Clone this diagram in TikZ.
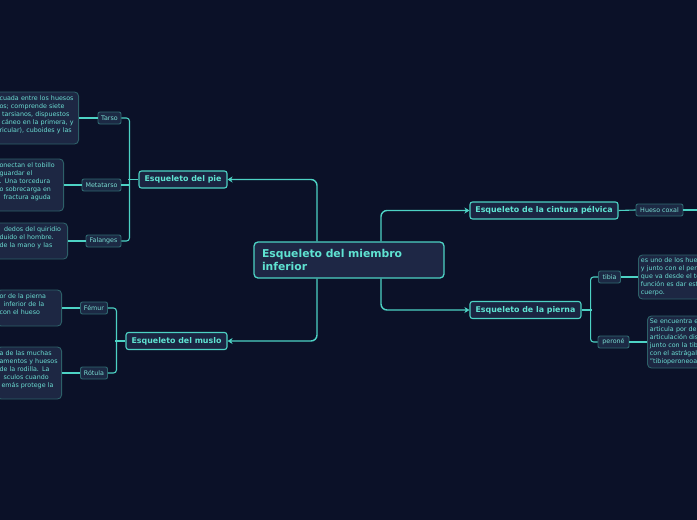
\documentclass[tikz,border=0pt]{standalone}
\usepackage{fontspec}
\setmainfont{DejaVu Sans}
\usetikzlibrary{arrows.meta}
\definecolor{bg}{HTML}{0B1128}
\definecolor{rootfill}{HTML}{1E2745}
\definecolor{titlefill}{HTML}{1B2542}
\definecolor{lineC}{HTML}{4DD2C4}
\definecolor{titleC}{HTML}{5FE3D2}
\definecolor{tagfill}{HTML}{1C2944}
\definecolor{tagborder}{HTML}{2E6870}
\definecolor{tagtext}{HTML}{7ADCD2}
\definecolor{descfill}{HTML}{1D2743}
\definecolor{descborder}{HTML}{2D6068}
\definecolor{desctext}{HTML}{6BDCD2}
\tikzset{
  rootbox/.style={draw=lineC, line width=1.3pt, fill=rootfill, rounded corners=4pt, text=titleC,
    font=\fontsize{10.8}{13}\selectfont\bfseries, text width=174pt, align=left, inner xsep=8pt,
    inner ysep=0pt, minimum height=36pt, minimum width=190pt},
  titlebox/.style={draw=lineC, line width=1.1pt, fill=titlefill, rounded corners=2.5pt, text=titleC,
    font=\fontsize{7.9}{9}\selectfont\bfseries, minimum height=17pt, inner sep=0pt},
  tagbox/.style={draw=tagborder, line width=0.9pt, fill=tagfill, rounded corners=2pt, text=tagtext,
    font=\fontsize{6.35}{8}\selectfont, minimum height=12pt, inner sep=0pt},
  descbox/.style={draw=descborder, line width=0.9pt, fill=descfill, rounded corners=4pt, text=desctext,
    font=\fontsize{6.35}{8}\selectfont, align=left, inner ysep=0pt},
  mainline/.style={draw=lineC, line width=1.4pt, rounded corners=6pt,
    -{Stealth[length=5pt,width=6pt,inset=1.5pt]}},
  subline/.style={draw=lineC, line width=1.1pt, rounded corners=3pt},
}
\begin{document}
\begin{tikzpicture}[x=1pt,y=-1pt]
\fill[bg] (0,0) rectangle (697,520);
\useasboundingbox (0,0) rectangle (697,520);

% main nodes
\node[rootbox] (root) at (349,260) {Esqueleto del miembro\\inferior};
\node[titlebox, minimum width=88pt] (pie) at (183,179.5) {Esqueleto del pie};
\node[titlebox, minimum width=101pt] (muslo) at (176.5,341) {Esqueleto del muslo};
\node[titlebox, minimum width=148pt] (cintura) at (544,210.5) {Esqueleto de la cintura pélvica};
\node[titlebox, minimum width=111pt] (pierna) at (525.5,310) {Esqueleto de la pierna};

% tags
\node[tagbox, minimum width=23pt] (tarso) at (109.5,118) {Tarso};
\node[tagbox, minimum width=39pt] (metatarso) at (101.5,185) {Metatarso};
\node[tagbox, minimum width=35pt] (falanges) at (103.5,241) {Falanges};
\node[tagbox, minimum width=27pt] (femur) at (94,308) {Fémur};
\node[tagbox, minimum width=27pt] (rotula) at (94,373) {Rótula};
\node[tagbox, minimum width=47pt] (coxal) at (659.5,210) {Hueso coxal};
\node[tagbox, minimum width=22pt] (tibia) at (609.5,277) {tibia};
\node[tagbox, minimum width=31pt] (perone) at (613.5,342) {peroné};

% description boxes
\node[descbox, inner xsep=4pt, text width=75pt, minimum height=52pt, anchor=east] (tarsod) at (79,118)
  {cuada entre los huesos\\os; comprende siete\\\hspace*{2.5pt}tarsianos, dispuestos\\\hspace*{2pt}cáneo en la primera, y\\ricular), cuboides y las\\\mbox{}};
\node[descbox, inner xsep=4pt, text width=60pt, minimum height=52pt, anchor=east] (metatarsod) at (64,185)
  {onectan el tobillo\\guardar el\\. Una torcedura\\o sobrecarga en\\\hspace*{4pt}fractura aguda\\\mbox{}};
\node[descbox, inner xsep=4pt, text width=64pt, minimum height=36pt, anchor=east] (falangesd) at (68,241)
  {\hspace*{4.5pt}dedos del quiridio\\duido el hombre.\\de la mano y las\\\mbox{}};
\node[descbox, inner xsep=2.5pt, text width=59.5pt, minimum height=36pt, anchor=east] (femurd) at (62,308)
  {or de la pierna\\\hspace*{4pt}inferior de la\\con el hueso\\\mbox{}};
\node[descbox, inner xsep=2.5pt, text width=59.5pt, minimum height=52pt, anchor=east] (rotulad) at (62,373)
  {a de las muchas\\amentos y huesos\\de la rodilla. La\\\hspace*{4pt}sculos cuando\\\hspace*{2pt}emás protege la\\\mbox{}};
\node[descbox, inner xsep=2.5pt, text width=130pt, minimum height=44pt, anchor=west] (tibiad) at (638,277)
  {es uno de los huesos\\y junto con el peroné\\que va desde el tobillo\\función es dar estabilidad\\cuerpo.};
\node[descbox, inner xsep=2.5pt, text width=130pt, minimum height=52pt, anchor=west] (peroned) at (647,342)
  {Se encuentra en\\articula por debajo\\articulación distal\\junto con la tibia\\con el astrágalo\\"tibioperoneoastragalina};

% main connectors
\draw[mainline] ([xshift=-32pt]root.north) |- (pie.east);
\draw[mainline] ([xshift=-32pt]root.south) |- (muslo.east);
\draw[mainline] ([xshift=32pt]root.north) |- (cintura.west);
\draw[mainline] ([xshift=32pt]root.south) |- (pierna.west);

% branch connectors
\draw[subline] (tarso.east) -- ++(8,0) |- (falanges.east);
\draw[subline] (metatarso.east) -- ++(8,0);
\draw[subline] (pie.west) -- ++(-10,0);
\draw[subline] (femur.east) -- ++(8.5,0) |- (rotula.east);
\draw[subline] (muslo.west) -- ++(-10,0);
\draw[subline] (tibia.west) -- ++(-7.5,0) |- (perone.west);
\draw[subline] (pierna.east) -- ++(10.5,0);
\draw[subline] (cintura.east) -- (coxal.west);
\draw[subline] (coxal.east) -- ++(20,0);

% tag to description
\draw[subline] (tarso.west) -- (tarsod.east);
\draw[subline] (metatarso.west) -- (metatarsod.east);
\draw[subline] (falanges.west) -- (falangesd.east);
\draw[subline] (femur.west) -- (femurd.east);
\draw[subline] (rotula.west) -- (rotulad.east);
\draw[subline] (tibia.east) -- (tibiad.west);
\draw[subline] (perone.east) -- (peroned.west);
\end{tikzpicture}
\end{document}
